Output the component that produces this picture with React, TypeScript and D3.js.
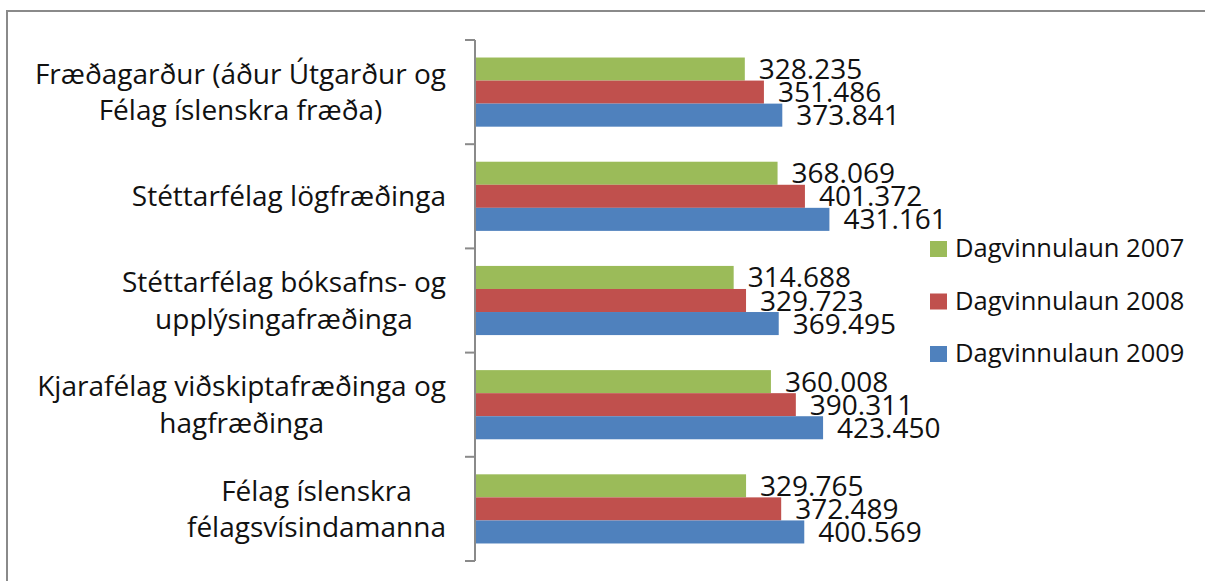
import React, { useRef, useEffect } from "react";
import * as d3 from "d3";

const categories = [
  ["Fræðagarður (áður Útgarður og", "Félag íslenskra fræða)"],
  ["Stéttarfélag lögfræðinga"],
  ["Stéttarfélag bóksafns- og", "upplýsingafræðinga"],
  ["Kjarafélag viðskiptafræðinga og", "hagfræðinga"],
  ["Félag íslenskra", "félagsvísindamanna"],
];
const seriesNames = ["Dagvinnulaun 2007", "Dagvinnulaun 2008", "Dagvinnulaun 2009"];
const laun2007 = [328235, 368069, 314688, 360008, 329765];
const laun2008 = [351486, 401372, 329723, 390311, 372489];
const laun2009 = [373841, 431161, 369495, 423450, 400569];
const colors = ["#9BBB59", "#C0504D", "#4F81BD"];

const W = 1205, H = 581;
const FONT = "'Open Sans', sans-serif";

export default function App() {
  const svgRef = useRef<SVGSVGElement>(null);

  useEffect(() => {
    const svg = d3.select(svgRef.current);
    svg.selectAll("*").remove();

    const series = [laun2007, laun2008, laun2009];
    const keys = categories.map((c) => c.join(" "));

    // outer frame (runs off the right/bottom edge)
    svg.append("rect")
      .attr("x", 7).attr("y", 11)
      .attr("width", 1400).attr("height", 1000)
      .attr("fill", "none").attr("stroke", "#8a8a8a").attr("stroke-width", 2);

    const x = d3.scaleLinear().domain([0, 500000]).range([475, 886]);
    const y = d3.scaleBand().domain(keys).range([40, 561]);
    const inner = d3.scaleBand<number>()
      .domain([0, 1, 2])
      .range([0, y.bandwidth()])
      .paddingOuter(0.76);

    const fmt = (v: number) => d3.format(",")(v).replace(/,/g, ".");

    // bars
    series.forEach((vals, s) => {
      const g = svg.append("g");
      g.selectAll("rect")
        .data(vals)
        .enter().append("rect")
        .attr("x", x(0))
        .attr("y", (d, i) => (y(keys[i]) as number) + (inner(s) as number))
        .attr("width", (d) => x(d) - x(0))
        .attr("height", inner.bandwidth())
        .attr("fill", colors[s]);
    });

    // data labels
    series.forEach((vals, s) => {
      svg.append("g").selectAll("text")
        .data(vals)
        .enter().append("text")
        .attr("x", (d) => x(d) + 14)
        .attr("y", (d, i) => (y(keys[i]) as number) + (inner(s) as number) + inner.bandwidth() / 2 + 10)
        .attr("font-family", FONT)
        .attr("font-size", 28)
        .attr("fill", "#111")
        .text((d) => fmt(d));
    });

    // axis line + ticks at band boundaries
    svg.append("line")
      .attr("x1", x(0)).attr("x2", x(0))
      .attr("y1", y.range()[0]).attr("y2", y.range()[1])
      .attr("stroke", "#8a8a8a").attr("stroke-width", 2);
    const bounds = keys.map((k) => y(k) as number).concat([y.range()[1]]);
    svg.append("g").selectAll("line")
      .data(bounds)
      .enter().append("line")
      .attr("x1", x(0) - 10).attr("x2", x(0))
      .attr("y1", (d) => d).attr("y2", (d) => d)
      .attr("stroke", "#8a8a8a").attr("stroke-width", 2);

    // category labels: lines centred, block right aligned to the axis
    const lineH = 36.5;
    categories.forEach((lines, i) => {
      const cy = (y(keys[i]) as number) + y.bandwidth() / 2;
      const g = svg.append("g");
      const texts = lines.map((ln, j) =>
        g.append("text")
          .attr("y", cy + (j - (lines.length - 1) / 2) * lineH + 10)
          .attr("font-family", FONT)
          .attr("font-size", 28)
          .attr("fill", "#111")
          .attr("text-anchor", "middle")
          .text(ln)
      );
      const maxW = d3.max(texts, (t) => (t.node() as SVGTextElement).getComputedTextLength()) || 0;
      texts.forEach((t) => t.attr("x", 446 - maxW / 2));
    });

    // legend
    seriesNames.forEach((name, s) => {
      const ly = 241 + s * 52.5;
      svg.append("rect")
        .attr("x", 930).attr("y", ly)
        .attr("width", 17).attr("height", 16)
        .attr("fill", colors[s]);
      svg.append("text")
        .attr("x", 955).attr("y", ly + 16)
        .attr("font-family", FONT)
        .attr("font-size", 25.5)
        .attr("fill", "#111")
        .text(name);
    });
  }, []);

  return (
    <div>
      <svg ref={svgRef} width={W} height={H}
        style={{ position: "absolute", left: 0, top: 0, background: "#fff" }} />
    </div>
  );
}
